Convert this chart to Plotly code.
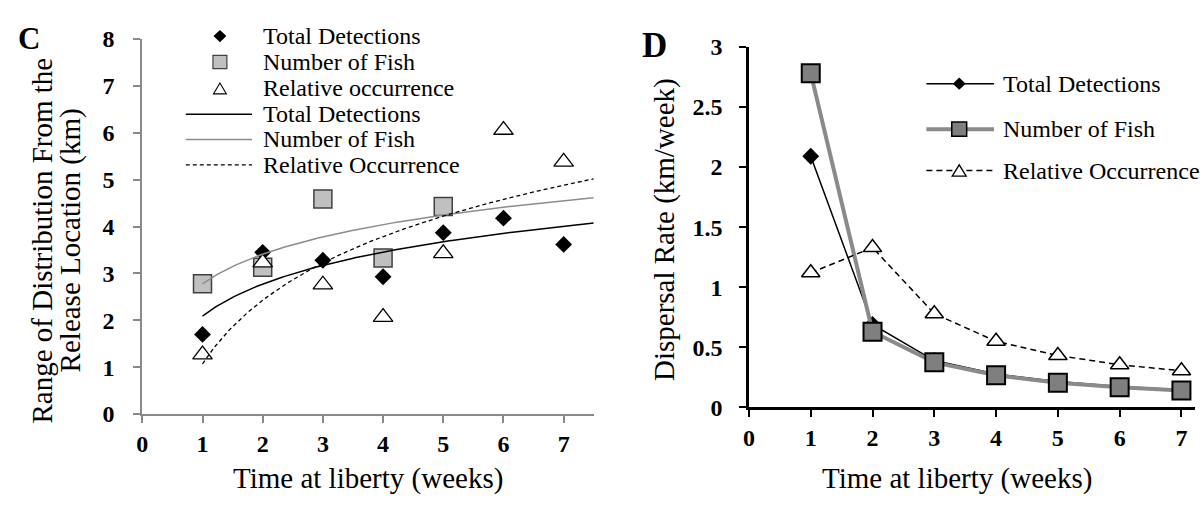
import numpy as np
import plotly.graph_objects as go

# ---------------- data ----------------
weeks = [1, 2, 3, 4, 5, 6, 7]
fish_weeks = [1, 2, 3, 4, 5]

# Panel C: range of distribution from the release location (km)
c_total_detections = [1.70, 3.45, 3.28, 2.93, 3.87, 4.18, 3.62]
c_number_of_fish = [2.78, 3.13, 4.59, 3.33, 4.43]
c_relative_occurrence = [1.27, 3.23, 2.76, 2.07, 3.43, 6.06, 5.38]

# Panel D: dispersal rate (km/week)
d_total_detections = [2.09, 0.69, 0.39, 0.278, 0.215, 0.175, 0.148]
d_number_of_fish = [2.78, 0.63, 0.375, 0.268, 0.205, 0.168, 0.14]
d_relative_occurrence = [1.12, 1.33, 0.78, 0.55, 0.432, 0.355, 0.305]

c_x_ticks = [0, 1, 2, 3, 4, 5, 6, 7]
c_y_ticks = [0, 1, 2, 3, 4, 5, 6, 7, 8]
d_x_ticks = [0, 1, 2, 3, 4, 5, 6, 7]
d_y_ticks = [0, 0.5, 1, 1.5, 2, 2.5, 3]
d_y_ticktext = ["0", "0.5", "1", "1.5", "2", "2.5", "3"]

c_legend_labels = ["Total Detections", "Number of Fish", "Relative occurrence",
                   "Total Detections", "Number of Fish", "Relative Occurrence"]
d_legend_labels = ["Total Detections", "Number of Fish", "Relative Occurrence"]

x_title = "Time at liberty (weeks)"
c_y_title = ["Range of Distribution From the", "Release Location (km)"]
d_y_title = "Dispersal Rate (km/week)"
panel_labels = ["C", "D"]

# ---------------- helpers ----------------
W, H = 1200, 508
FONT = "Liberation Serif"


def px(x):
    return x / W


def py(y):
    return 1 - y / H


def log_fit(x, y, x_end=7.5):
    a, b = np.polyfit(np.log(np.array(x, float)), np.array(y, float), 1)
    xs = np.linspace(1, x_end, 150)
    return xs, a * np.log(xs) + b


fig = go.Figure()

# ---------------- panel C ----------------
fig.add_trace(go.Scatter(
    x=weeks, y=c_total_detections, mode="markers", xaxis="x", yaxis="y",
    marker=dict(symbol="diamond", size=13, color="black", line=dict(width=0)),
    showlegend=False, name="Total Detections"))
fig.add_trace(go.Scatter(
    x=fish_weeks, y=c_number_of_fish, mode="markers", xaxis="x", yaxis="y",
    marker=dict(symbol="square", size=18, color="#c0c0c0",
                line=dict(width=1.5, color="#404040")),
    showlegend=False, name="Number of Fish"))
fig.add_trace(go.Scatter(
    x=weeks, y=c_relative_occurrence, mode="markers", xaxis="x", yaxis="y",
    marker=dict(symbol="triangle-up", size=17, color="white",
                line=dict(width=1.3, color="black")),
    showlegend=False, name="Relative occurrence"))

xs, ys = log_fit(weeks, c_total_detections)
fig.add_trace(go.Scatter(x=xs, y=ys, mode="lines", xaxis="x", yaxis="y",
                         line=dict(color="black", width=1.5), showlegend=False))
xs, ys = log_fit(fish_weeks, c_number_of_fish)
fig.add_trace(go.Scatter(x=xs, y=ys, mode="lines", xaxis="x", yaxis="y",
                         line=dict(color="#8c8c8c", width=1.5), showlegend=False))
xs, ys = log_fit(weeks, c_relative_occurrence)
fig.add_trace(go.Scatter(x=xs, y=ys, mode="lines", xaxis="x", yaxis="y",
                         line=dict(color="black", width=1.3, dash="4px,3px"),
                         showlegend=False))

# ---------------- panel D ----------------
fig.add_trace(go.Scatter(
    x=weeks, y=d_total_detections, mode="lines+markers", xaxis="x2", yaxis="y2",
    line=dict(color="black", width=1.5),
    marker=dict(symbol="diamond", size=13, color="black"),
    showlegend=False, name="Total Detections"))
fig.add_trace(go.Scatter(
    x=weeks, y=d_number_of_fish, mode="lines+markers", xaxis="x2", yaxis="y2",
    line=dict(color="#8a8a8a", width=4),
    marker=dict(symbol="square", size=18, color="#7f7f7f",
                line=dict(width=2, color="black")),
    showlegend=False, name="Number of Fish"))
fig.add_trace(go.Scatter(
    x=weeks, y=d_relative_occurrence, mode="lines+markers", xaxis="x2", yaxis="y2",
    line=dict(color="black", width=1.5, dash="6px,4px"),
    marker=dict(symbol="triangle-up", size=16, color="white",
                line=dict(width=1.5, color="black")),
    showlegend=False, name="Relative Occurrence"))

tickfont = dict(family=FONT, size=24, color="black", weight="bold")

fig.update_layout(
    width=W, height=H, autosize=False,
    margin=dict(l=0, r=0, t=0, b=0),
    paper_bgcolor="white", plot_bgcolor="white",
    showlegend=False,
    xaxis=dict(domain=[px(137), px(590.7)], range=[0, 7.5], anchor="y",
               tickmode="array", tickvals=c_x_ticks,
               showline=True, linecolor="#898989", linewidth=2,
               ticks="outside", ticklen=7, tickwidth=1.5, tickcolor="#898989",
               showgrid=False, zeroline=False, tickfont=tickfont,
               ticklabelstandoff=0),
    yaxis=dict(domain=[py(422.7), py(27.5)], range=[0, 8], anchor="x",
               tickmode="array", tickvals=c_y_ticks,
               showline=True, linecolor="#898989", linewidth=2,
               ticks="outside", ticklen=7, tickwidth=1.5, tickcolor="#898989",
               showgrid=False, zeroline=False, tickfont=tickfont,
               ticklabelstandoff=14),
    xaxis2=dict(domain=[px(746.7), px(1195)], range=[0, 7.22], anchor="y2",
                tickmode="array", tickvals=d_x_ticks,
                showline=True, linecolor="black", linewidth=2.5,
                ticks="outside", ticklen=7, tickwidth=1.5, tickcolor="black",
                showgrid=False, zeroline=False, tickfont=tickfont,
                ticklabelstandoff=0),
    yaxis2=dict(domain=[py(415.7), py(35.7)], range=[0, 3], anchor="x2",
                tickmode="array", tickvals=d_y_ticks, ticktext=d_y_ticktext,
                showline=True, linecolor="black", linewidth=2.5,
                ticks="outside", ticklen=7, tickwidth=1.5, tickcolor="black",
                showgrid=False, zeroline=False, tickfont=tickfont,
                ticklabelstandoff=12),
)

annotations = []
shapes = []


def text(x, y, s, size=24, xanchor="left", textangle=0, bold=False):
    annotations.append(dict(
        x=px(x), y=py(y), xref="paper", yref="paper", text=s, showarrow=False,
        xanchor=xanchor, yanchor="middle", textangle=textangle,
        font=dict(family=FONT, size=size, color="black",
                  weight="bold" if bold else "normal")))


def hline(x0, x1, y, color, width, dash="solid"):
    shapes.append(dict(type="line", xref="paper", yref="paper",
                       x0=px(x0), x1=px(x1), y0=py(y), y1=py(y),
                       line=dict(color=color, width=width, dash=dash)))


def diamond(cx, cy, r, fill):
    p = (f"M{px(cx)},{py(cy - r)} L{px(cx + r)},{py(cy)} "
         f"L{px(cx)},{py(cy + r)} L{px(cx - r)},{py(cy)} Z")
    shapes.append(dict(type="path", xref="paper", yref="paper", path=p,
                       fillcolor=fill, line=dict(width=0)))


def square(cx, cy, r, fill, border, bw):
    shapes.append(dict(type="rect", xref="paper", yref="paper",
                       x0=px(cx - r), x1=px(cx + r), y0=py(cy + r), y1=py(cy - r),
                       fillcolor=fill, line=dict(color=border, width=bw)))


def triangle(cx, cy, w, h, bw):
    p = (f"M{px(cx - w / 2)},{py(cy + h / 2)} L{px(cx + w / 2)},{py(cy + h / 2)} "
         f"L{px(cx)},{py(cy - h / 2)} Z")
    shapes.append(dict(type="path", xref="paper", yref="paper", path=p,
                       fillcolor="white", line=dict(color="black", width=bw)))


# ----- legend C -----
c_rows = [24.3, 51.7, 79.5, 106.7, 133.3, 160]
diamond(215, c_rows[0], 6.5, "black")
square(215, c_rows[1], 7, "#c0c0c0", "#404040", 1.2)
triangle(215, c_rows[2], 13, 11.5, 1.1)
hline(180.7, 247.3, c_rows[3], "black", 1.5)
hline(180.7, 247.3, c_rows[4], "#8c8c8c", 1.5)
hline(180.7, 247.3, c_rows[5], "black", 1.3, "4px,3px")
for r, lab in zip(c_rows, c_legend_labels):
    text(256.7, r, lab)

# ----- legend D -----
d_rows = [74.5, 122.5, 166]
hline(925, 993, d_rows[0], "black", 1.5)
diamond(958, d_rows[0], 6.5, "black")
hline(925, 993, d_rows[1], "#8a8a8a", 4)
square(958, d_rows[1], 7.5, "#7f7f7f", "black", 1.5)
hline(925, 993, d_rows[2], "black", 1.5, "6px,4px")
triangle(958, d_rows[2], 14, 12, 1.3)
for r, lab in zip(d_rows, d_legend_labels):
    text(1000, r, lab)

# ----- titles -----
text(363.5, 491, x_title, size=29, xanchor="center")
text(956, 491, x_title, size=29, xanchor="center")
text(36, 240, c_y_title[0], size=29, xanchor="center", textangle=-90)
text(65, 240, c_y_title[1], size=29, xanchor="center", textangle=-90)
text(662, 228, d_y_title, size=29, xanchor="center", textangle=-90)
text(23, 27, panel_labels[0], size=31, xanchor="center", bold=True)
text(652, 34, panel_labels[1], size=35, xanchor="center", bold=True)

fig.update_layout(annotations=annotations, shapes=shapes)

fig.write_html("out.html",
               config={"displayModeBar": False},
               post_script="document.body.style.margin='0';"
                           "document.body.style.overflow='hidden';")
